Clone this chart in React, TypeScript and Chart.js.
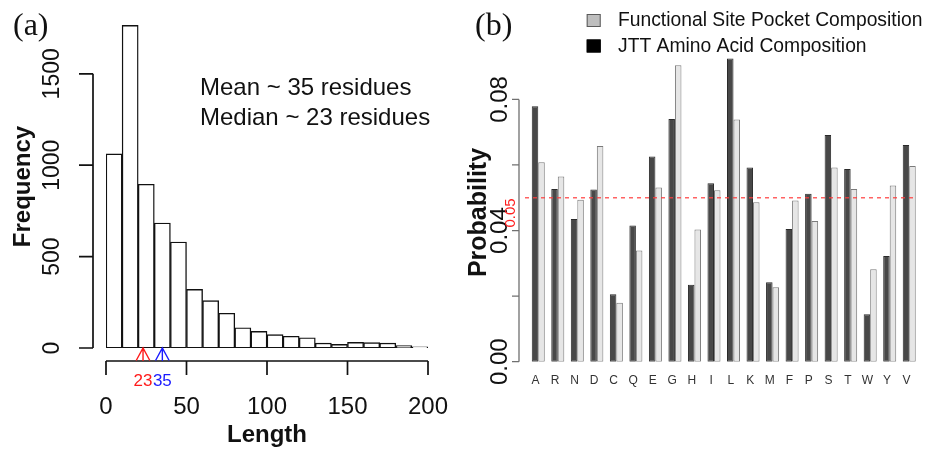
import React, { useEffect, useRef } from 'react';
import { Chart, registerables } from 'chart.js';

Chart.register(...registerables);

// ---------- Panel (a) data ----------
const binCenters = [5, 15, 25, 35, 45, 55, 65, 75, 85, 95, 105, 115, 125, 135, 145, 155, 165, 175, 185, 195];
const frequencies = [1062, 1765, 896, 684, 580, 321, 259, 190, 111, 91, 73, 64, 56, 27, 20, 31, 29, 27, 13, 6];
const lengthTicks = [0, 50, 100, 150, 200];
const frequencyTicks = [0, 500, 1000, 1500];
const meanLength = 35;
const medianLength = 23;
const summaryLines = ['Mean ~ 35 residues', 'Median ~ 23 residues'];

// ---------- Panel (b) data ----------
const aminoAcids = ['A', 'R', 'N', 'D', 'C', 'Q', 'E', 'G', 'H', 'I', 'L', 'K', 'M', 'F', 'P', 'S', 'T', 'W', 'Y', 'V'];
const jttComposition = [0.0779, 0.0527, 0.0435, 0.0525, 0.0206, 0.0415, 0.0626, 0.0740, 0.0235, 0.0544, 0.0925, 0.0592, 0.0242, 0.0405, 0.0512, 0.0691, 0.0588, 0.0145, 0.0322, 0.0661];
const pocketComposition = [0.0608, 0.0565, 0.0494, 0.0658, 0.0180, 0.0339, 0.0531, 0.0904, 0.0403, 0.0523, 0.0739, 0.0486, 0.0227, 0.0492, 0.0429, 0.0592, 0.0527, 0.0282, 0.0537, 0.0597];
const probabilityTicks = [0, 0.02, 0.04, 0.06, 0.08];
const probabilityTickLabels = ['0.00', '', '0.04', '', '0.08'];
const thresholdValue = 0.05;
const thresholdLabel = '0.05';
const legendLabels = ['Functional Site Pocket Composition', 'JTT Amino Acid Composition'];

const SANS = '"Liberation Sans", Arial, Helvetica, sans-serif';
const SERIF = '"Liberation Serif", "Times New Roman", serif';

function rotatedText(ctx: CanvasRenderingContext2D, text: string, x: number, y: number) {
  ctx.save();
  ctx.translate(x, y);
  ctx.rotate(-Math.PI / 2);
  ctx.textAlign = 'center';
  ctx.textBaseline = 'alphabetic';
  ctx.fillText(text, 0, 0);
  ctx.restore();
}

const histogramAxesPlugin = {
  id: 'histAxes',
  afterDraw(chart: any) {
    const ctx: CanvasRenderingContext2D = chart.ctx;
    const xs = chart.scales.x;
    const ys = chart.scales.y;
    ctx.save();
    ctx.strokeStyle = '#111';
    ctx.fillStyle = '#111';
    ctx.lineWidth = 1.7;
    // y axis
    const axX = 93;
    ctx.beginPath();
    ctx.moveTo(axX, ys.getPixelForValue(frequencyTicks[0]));
    ctx.lineTo(axX, ys.getPixelForValue(frequencyTicks[frequencyTicks.length - 1]));
    frequencyTicks.forEach((v) => {
      const py = ys.getPixelForValue(v);
      ctx.moveTo(79, py);
      ctx.lineTo(axX, py);
    });
    ctx.stroke();
    ctx.font = `23px ${SANS}`;
    frequencyTicks.forEach((v) => rotatedText(ctx, String(v), 58.5, ys.getPixelForValue(v)));

    // x axis
    const axY = 361;
    ctx.beginPath();
    ctx.moveTo(xs.getPixelForValue(lengthTicks[0]), axY);
    ctx.lineTo(xs.getPixelForValue(lengthTicks[lengthTicks.length - 1]), axY);
    lengthTicks.forEach((v) => {
      const px = xs.getPixelForValue(v);
      ctx.moveTo(px, axY);
      ctx.lineTo(px, 375);
    });
    ctx.stroke();
    ctx.font = `24px ${SANS}`;
    ctx.textAlign = 'center';
    ctx.textBaseline = 'alphabetic';
    lengthTicks.forEach((v) => ctx.fillText(String(v), xs.getPixelForValue(v), 414));

    // axis titles
    ctx.font = `bold 24px ${SANS}`;
    ctx.fillText('Length', (xs.getPixelForValue(0) + xs.getPixelForValue(200)) / 2, 442);
    rotatedText(ctx, 'Frequency', 29.5, 186.5);

    // arrows
    const base = ys.getPixelForValue(0);
    const arrows = [
      { v: medianLength, color: '#ff1a1a' },
      { v: meanLength, color: '#1a1aff' },
    ];
    ctx.lineWidth = 1.4;
    ctx.font = `17px ${SANS}`;
    arrows.forEach(({ v, color }) => {
      const px = xs.getPixelForValue(v);
      ctx.strokeStyle = color;
      ctx.fillStyle = color;
      ctx.beginPath();
      ctx.moveTo(px, axY);
      ctx.lineTo(px, base);
      ctx.moveTo(px - 6.8, axY - 0.5);
      ctx.lineTo(px, base);
      ctx.lineTo(px + 6.8, axY - 0.5);
      ctx.stroke();
      ctx.fillText(String(v), px, 385.5);
    });

    // summary text
    ctx.fillStyle = '#111';
    ctx.textAlign = 'left';
    ctx.font = `24px ${SANS}`;
    ctx.fillText(summaryLines[0], 200, 94.5);
    ctx.fillText(summaryLines[1], 200, 124.5);

    // panel label
    ctx.font = `32px ${SERIF}`;
    ctx.fillText('(a)', 13, 35);
    ctx.restore();
  },
};

const compositionAxesPlugin = {
  id: 'compAxes',
  afterDatasetsDraw(chart: any) {
    const ctx: CanvasRenderingContext2D = chart.ctx;
    const ys = chart.scales.y;
    const area = chart.chartArea;
    ctx.save();
    ctx.strokeStyle = 'rgba(255, 60, 60, 0.8)';
    ctx.lineWidth = 1.6;
    ctx.setLineDash([4, 4]);
    const ty = ys.getPixelForValue(thresholdValue);
    ctx.beginPath();
    ctx.moveTo(area.left - 3.5, ty);
    ctx.lineTo(area.right - 2, ty);
    ctx.stroke();
    ctx.restore();
  },
  afterDraw(chart: any) {
    const ctx: CanvasRenderingContext2D = chart.ctx;
    const ys = chart.scales.y;
    ctx.save();
    // y axis
    const axX = 55;
    ctx.strokeStyle = '#707070';
    ctx.lineWidth = 1.3;
    ctx.beginPath();
    ctx.moveTo(axX, ys.getPixelForValue(probabilityTicks[0]));
    ctx.lineTo(axX, ys.getPixelForValue(probabilityTicks[probabilityTicks.length - 1]));
    probabilityTicks.forEach((v) => {
      const py = ys.getPixelForValue(v);
      ctx.moveTo(48, py);
      ctx.lineTo(axX, py);
    });
    ctx.stroke();
    ctx.fillStyle = '#111';
    ctx.font = `24px ${SANS}`;
    probabilityTicks.forEach((v, i) => {
      if (probabilityTickLabels[i]) rotatedText(ctx, probabilityTickLabels[i], 42.5, ys.getPixelForValue(v));
    });

    // threshold label
    ctx.fillStyle = '#ff2020';
    ctx.font = `15px ${SANS}`;
    rotatedText(ctx, thresholdLabel, 51, 213);

    // axis title
    ctx.fillStyle = '#111';
    ctx.font = `bold 25px ${SANS}`;
    rotatedText(ctx, 'Probability', 22, 212.5);

    // category labels under the first bar of each group
    const meta = chart.getDatasetMeta(0);
    ctx.fillStyle = '#333';
    ctx.font = `12px ${SANS}`;
    ctx.textAlign = 'center';
    ctx.textBaseline = 'middle';
    meta.data.forEach((el: any, i: number) => {
      ctx.fillText(aminoAcids[i], el.x + 0.5, 381);
    });

    // legend
    ctx.textAlign = 'left';
    ctx.textBaseline = 'middle';
    ctx.font = `19.3px ${SANS}`;
    const swatches = [
      { fill: '#bebebe', stroke: '#5a5a5a', y: 14 },
      { fill: '#000000', stroke: '#000000', y: 39.5 },
    ];
    swatches.forEach((s, i) => {
      ctx.fillStyle = s.fill;
      ctx.fillRect(122.7, s.y, 14, 13);
      ctx.strokeStyle = s.stroke;
      ctx.lineWidth = 1;
      ctx.strokeRect(122.7 + 0.5, s.y + 0.5, 13, 12);
      ctx.fillStyle = '#111';
      ctx.fillText(legendLabels[i], 154, s.y + 7);
    });

    // panel label
    ctx.textBaseline = 'alphabetic';
    ctx.font = `32px ${SERIF}`;
    ctx.fillText('(b)', 11, 35);
    ctx.restore();
  },
};

export default function App() {
  const refA = useRef<HTMLCanvasElement | null>(null);
  const refB = useRef<HTMLCanvasElement | null>(null);

  useEffect(() => {
    const chartA = new Chart(refA.current as HTMLCanvasElement, {
      type: 'bar',
      data: {
        datasets: [
          {
            data: binCenters.map((x, i) => ({ x, y: frequencies[i] })),
            backgroundColor: '#ffffff',
            borderColor: '#111111',
            borderWidth: 1.4,
            borderSkipped: false,
            barPercentage: 1,
            categoryPercentage: 1,
          },
        ],
      },
      options: {
        animation: false,
        responsive: false,
        maintainAspectRatio: false,
        layout: { padding: { left: 106, right: 36, top: 19, bottom: 103 } },
        plugins: { legend: { display: false }, tooltip: { enabled: false } },
        scales: {
          x: { type: 'linear', min: 0, max: 200, offset: false, display: false },
          y: { type: 'linear', min: 0, max: 1800, display: false },
        },
      } as any,
      plugins: [histogramAxesPlugin],
    });

    const chartB = new Chart(refB.current as HTMLCanvasElement, {
      type: 'bar',
      data: {
        labels: aminoAcids,
        datasets: [
          {
            label: legendLabels[1],
            data: jttComposition,
            backgroundColor: '#484848',
            borderColor: '#2a2a2a',
            borderWidth: 1,
            borderSkipped: false,
          },
          {
            label: legendLabels[0],
            data: pocketComposition,
            backgroundColor: '#e6e6e6',
            borderColor: '#7a7a7a',
            borderWidth: 1,
            borderSkipped: false,
          },
        ],
      },
      options: {
        animation: false,
        responsive: false,
        maintainAspectRatio: false,
        layout: { padding: { left: 64.5, right: 9, top: 50.2, bottom: 89.3 } },
        datasets: { bar: { categoryPercentage: 2 / 3, barPercentage: 1 } },
        plugins: { legend: { display: false }, tooltip: { enabled: false } },
        scales: {
          x: { type: 'category', offset: true, display: false },
          y: { type: 'linear', min: 0, max: 0.095, display: false },
        },
      } as any,
      plugins: [compositionAxesPlugin],
    });

    return () => {
      chartA.destroy();
      chartB.destroy();
    };
  }, []);

  return (
    <div style={{ position: 'absolute', left: 0, top: 0, width: 928, height: 451, background: '#ffffff', overflow: 'hidden' }}>
      <canvas ref={refA} width={464} height={451} style={{ position: 'absolute', left: 0, top: 0, width: 464, height: 451 }} />
      <canvas ref={refB} width={464} height={451} style={{ position: 'absolute', left: 464, top: 0, width: 464, height: 451 }} />
    </div>
  );
}
